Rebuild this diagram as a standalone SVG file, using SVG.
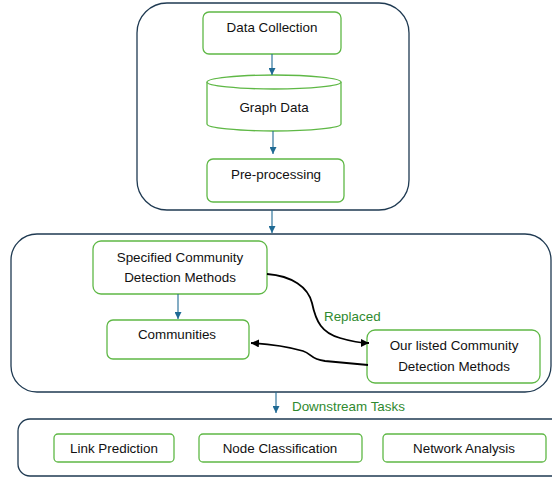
<svg xmlns="http://www.w3.org/2000/svg" width="552" height="479" viewBox="0 0 552 479">
<style>
.cont{fill:#fff;stroke:#1f3a52;stroke-width:1.3}
.box{fill:#fff;stroke:#5fb846;stroke-width:1.3}
.t{font-family:"Liberation Sans",Arial,sans-serif;font-size:13.4px;fill:#111;text-anchor:middle;dominant-baseline:central}
.g{font-family:"Liberation Sans",Arial,sans-serif;font-size:13.4px;fill:#2f8a2f;dominant-baseline:central}
.ba{stroke:#1f6a94;stroke-width:1.1;fill:none;marker-end:url(#mb)}
.ka{stroke:#000;stroke-width:1.8;fill:none;marker-end:url(#mk)}
</style>
<defs>
<marker id="mb" viewBox="0 0 10 10" refX="10" refY="5" markerWidth="7" markerHeight="7" markerUnits="userSpaceOnUse" orient="auto"><path d="M0,0 L10,5 L0,10 z" fill="#1f6a94"/></marker>
<marker id="mk" viewBox="0 0 10 10" refX="10" refY="5" markerWidth="8" markerHeight="8" markerUnits="userSpaceOnUse" orient="auto"><path d="M0,0 L10,5 L0,10 z" fill="#000"/></marker>
</defs>
<g id="container1"><rect class="cont" x="137" y="3" width="272" height="207" rx="30"/></g>
<g id="container2"><rect class="cont" x="11" y="234" width="540" height="158" rx="26"/></g>
<g id="container3"><rect class="cont" x="18" y="419" width="550" height="57" rx="12"/></g>
<g id="data-collection"><rect class="box" x="203" y="12" width="138" height="42" rx="6"/><text class="t" x="272" y="27">Data Collection</text></g>
<g id="graph-data">
<path class="box" d="M207,82 L207,124 A67,7 0 0 0 341,124 L341,82"/>
<ellipse class="box" cx="274" cy="82" rx="67" ry="7"/>
<text class="t" x="274" y="107">Graph Data</text></g>
<g id="pre-processing"><rect class="box" x="207" y="159" width="137" height="43" rx="6"/><text class="t" x="276" y="174">Pre-processing</text></g>
<g id="specified"><rect class="box" x="93" y="241" width="174" height="53" rx="8"/><text class="t" x="180" y="257">Specified Community</text><text class="t" x="180" y="277">Detection Methods</text></g>
<g id="communities"><rect class="box" x="107" y="320" width="142" height="39" rx="6"/><text class="t" x="177" y="334">Communities</text></g>
<g id="our-listed"><rect class="box" x="367" y="330" width="173" height="53" rx="8"/><text class="t" x="454" y="345">Our listed Community</text><text class="t" x="454" y="366">Detection Methods</text></g>
<g id="link-prediction"><rect class="box" x="54" y="434" width="120" height="28" rx="4"/><text class="t" x="114" y="448">Link Prediction</text></g>
<g id="node-classification"><rect class="box" x="199" y="434" width="163" height="28" rx="4"/><text class="t" x="280" y="448">Node Classification</text></g>
<g id="network-analysis"><rect class="box" x="383" y="434" width="163" height="28" rx="4"/><text class="t" x="464" y="448">Network Analysis</text></g>
<g id="connectors">
<line class="ba" x1="272" y1="54" x2="272" y2="75"/>
<line class="ba" x1="273" y1="131" x2="273" y2="154"/>
<line class="ba" x1="272" y1="210" x2="272" y2="233"/>
<line class="ba" x1="178" y1="294" x2="178" y2="319"/>
<line class="ba" x1="276" y1="392" x2="276" y2="413"/>
<path class="ka" d="M267,274 C292,276 308,287 312,303 C316,322 322,333 340,338 C350,341 360,343 369,343"/>
<path class="ka" d="M368,365 L325,361 C310,359 312,354 303,351 C285,346 268,344 251,343"/>
<text class="g" x="324" y="316">Replaced</text>
<text class="g" x="292" y="406">Downstream Tasks</text>
</g>
</svg>
